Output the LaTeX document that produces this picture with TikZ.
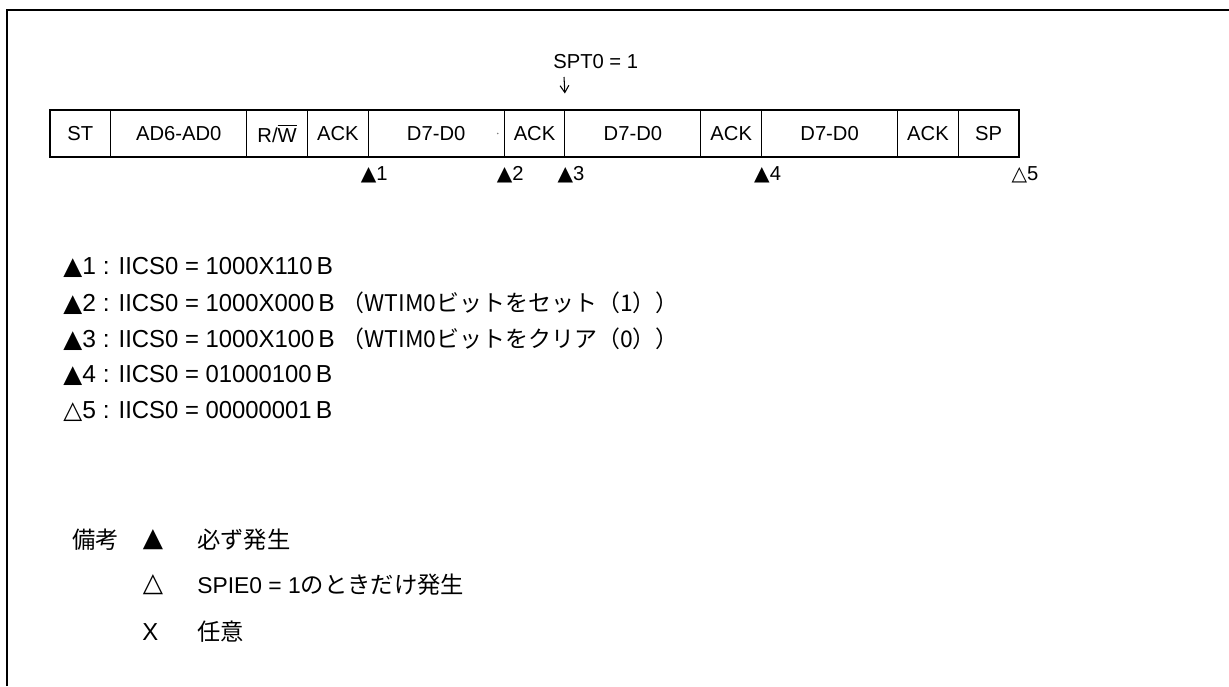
\documentclass[tikz,border=0pt]{standalone}
\usepackage{fontspec}
\setmainfont{Liberation Sans}
\newfontfamily\jpfont[Scale=1.02]{Noto Sans CJK JP}
\newfontfamily\narrowfont[FakeStretch=0.97]{Liberation Sans}
\newfontfamily\symfont{DejaVu Sans}
\usetikzlibrary{arrows.meta, positioning}

\newcommand{\shortw}{1.215cm}
\newcommand{\longw}{2.72cm}
\newcommand{\jpsmall}{\fontsize{12.8pt}{14pt}\selectfont\jpfont}

\begin{document}
\begin{tikzpicture}[x=0.02cm, y=-0.02cm,
      cell/.style={draw, line width=0.6pt, minimum height=0.94cm, outer sep=0pt,
                   inner sep=0pt, font=\fontsize{11.5pt}{13pt}\selectfont},
      shortcell/.style={cell, minimum width=\shortw},
      longcell/.style={cell, minimum width=\longw},
      trig/.style={anchor=west, inner sep=0pt, font=\fontsize{11.5pt}{13pt}\selectfont},
      notetext/.style={anchor=west, inner sep=0pt, font=\fontsize{14pt}{16pt}\selectfont},
      remark/.style={anchor=west, inner sep=0pt, font=\fontsize{13pt}{15pt}\selectfont},
      legsym/.style={inner sep=0pt, font=\fontsize{15pt}{16pt}\selectfont},
      frameline/.style={line width=1.2pt},
      darr/.style={-{Straight Barb[length=4pt, width=5pt]}, line width=0.6pt}
    ]
      \useasboundingbox (0,0) rectangle (1229,686);
      \draw[frameline] (7,686) -- (7,10) -- (1229,10);

      % frame row
      \node[shortcell, anchor=north west] (st) at (50,110) {ST};
      \node[longcell, right=0pt of st] (addr) {AD6-AD0};
      \node[shortcell, right=0pt of addr] (rw) {R/$\overline{\mbox{W}}$};
      \node[shortcell, right=0pt of rw] (ack0) {ACK};
      \node[longcell, right=0pt of ack0] (data1) {D7-D0};
      \node[shortcell, right=0pt of data1] (ack1) {ACK};
      \node[longcell, right=0pt of ack1] (data2) {D7-D0};
      \node[shortcell, right=0pt of data2] (ack2) {ACK};
      \node[longcell, right=0pt of ack2] (data3) {D7-D0};
      \node[shortcell, right=0pt of data3] (ack3) {ACK};
      \node[shortcell, right=0pt of ack3] (sp) {SP};
      \draw[frameline] (st.north west) rectangle (sp.south east);
      \fill[gray] ([xshift=-0.13cm]data1.east) circle (0.5pt);

      % stop condition
      \node[trig] (spt) at (553,62) {SPT0 = 1};
      \coordinate (arrtop) at (564,77);
      \draw[darr] (arrtop) -- ([yshift=0.33cm]data2.north west);

      % interrupt points
      \node[trig] (m1) at ([xshift=-0.155cm, yshift=-0.36cm]data1.south west) {{\symfont ▲}1};
      \node[trig] (m2) at ([xshift=-0.155cm, yshift=-0.36cm]ack1.south west) {{\symfont ▲}2};
      \node[trig] (m3) at ([xshift=-0.155cm, yshift=-0.36cm]data2.south west) {{\symfont ▲}3};
      \node[trig] (m4) at ([xshift=-0.155cm, yshift=-0.36cm]data3.south west) {{\symfont ▲}4};
      \node[trig] (m5) at ([xshift=-0.155cm, yshift=-0.36cm]sp.south east) {{\symfont △}5};

      % register values
      \node[notetext] (n1) at (63,267) {{\symfont ▲}1 : {\narrowfont IICS0 = 1000X110}\,B};
      \node[notetext] (n2) at (63,303) {{\symfont ▲}2 : {\narrowfont IICS0 = 1000X000}\,B\ {\jpsmall （WTIM0ビットをセット（1））}};
      \node[notetext] (n3) at (63,339) {{\symfont ▲}3 : {\narrowfont IICS0 = 1000X100}\,B\ {\jpsmall （WTIM0ビットをクリア（0））}};
      \node[notetext] (n4) at (63,375) {{\symfont ▲}4 : {\narrowfont IICS0 = 01000100}\,B};
      \node[notetext] (n5) at (63,411) {{\symfont △}5 : {\narrowfont IICS0 = 00000001}\,B};

      % remarks
      \node[remark] (bikou) at (72,540) {\jpfont 備考};
      \node[legsym] (lgfull) at (153,540) {\symfont ▲};
      \node[remark] (lgfulltext) at (197,540) {\jpfont 必ず発生};
      \node[legsym] (lgopen) at (153,585) {\symfont △};
      \node[remark] (lgopentext) at (197,585) {SPIE0 = 1{\jpfont のときだけ発生}};
      \node[notetext] (lgx) at (142,632) {\narrowfont X};
      \node[remark] (lgxtext) at (197,632) {\jpfont 任意};
    \end{tikzpicture}
\end{document}
